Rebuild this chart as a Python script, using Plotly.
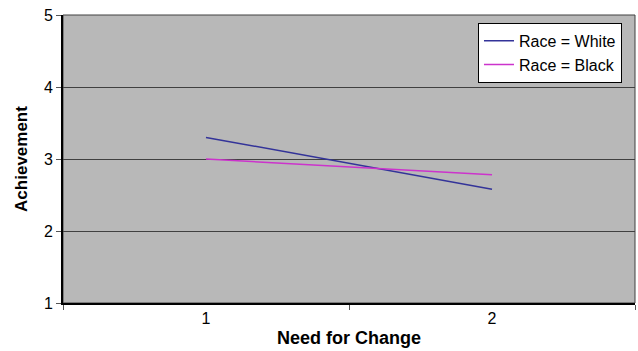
import plotly.graph_objects as go

need = [1, 2]
white = [3.30, 2.58]
black = [3.00, 2.78]
series_names = ["Race = White", "Race = Black"]
x_ticks = [1, 2]
y_ticks = [1, 2, 3, 4, 5]

fig = go.Figure()
fig.add_trace(go.Scatter(x=need, y=white, mode="lines", name=series_names[0],
                         line=dict(color="#333399", width=1.5)))
fig.add_trace(go.Scatter(x=need, y=black, mode="lines", name=series_names[1],
                         line=dict(color="#CC33CC", width=1.5)))

font = "Liberation Sans, Arial, sans-serif"
fig.update_layout(
    width=638, height=351,
    margin=dict(l=63, r=3, t=15, b=48),
    paper_bgcolor="white", plot_bgcolor="#B8B8B8",
    font=dict(family=font, size=15, color="black"),
    showlegend=True,
    legend=dict(x=0.7255, y=0.973, xanchor="left", yanchor="top",
                bgcolor="white", bordercolor="black", borderwidth=1,
                font=dict(size=16), tracegroupgap=0, itemwidth=30),
)
fig.update_xaxes(range=[0.5, 2.5], tickvals=x_ticks, ticktext=[str(v) for v in x_ticks],
                 ticks="", showgrid=False, zeroline=False,
                 tickfont=dict(family=font, size=16, color="black"),
                 showline=True, linecolor="black", linewidth=2, mirror=False,
                 minor=dict(tickvals=[0.5, 1.5, 2.5], ticks="outside", ticklen=5,
                            tickcolor="#555", tickwidth=1, showgrid=False),
                 title=dict(text="<b>Need for Change</b>", font=dict(size=18), standoff=5))
fig.update_yaxes(range=[1, 5], tickvals=y_ticks, ticks="outside", ticklen=5,
                 tickfont=dict(family=font, size=16, color="black"),
                 tickcolor="#555", showgrid=True, gridcolor="#404040", gridwidth=1,
                 zeroline=False, showline=True, linecolor="black", linewidth=2,
                 title=dict(text="<b>Achievement</b>", font=dict(size=17), standoff=12))
# plot area border on top/right
fig.add_shape(type="rect", xref="paper", yref="paper", x0=0, y0=0, x1=1, y1=1,
              line=dict(color="#404040", width=1), layer="below")

fig.write_html("out.html")
